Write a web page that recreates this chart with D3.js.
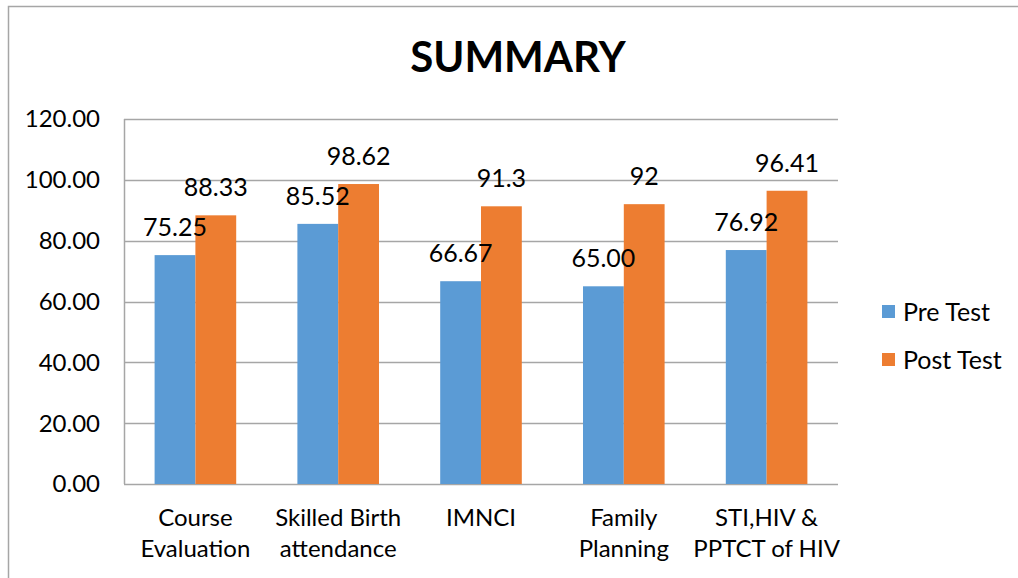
<!DOCTYPE html>
<html>
<head>
<meta charset="utf-8"/>
<script src="https://cdn.jsdelivr.net/npm/d3@7"></script>
<style>
html, body {
  margin: 0;
  padding: 0;
  background: #fff;
}
svg text {
  font-family: Lato, "Open Sans", sans-serif;
  fill: #000;
}
</style>
</head>
<body>
<svg id="chart" width="1018" height="578"></svg>
<script>

var categories = [["Course", "Evaluation"], ["Skilled Birth", "attendance"], ["IMNCI"], ["Family", "Planning"], ["STI,HIV &", "PPTCT of HIV"]];
var preTest = [75.25, 85.52, 66.67, 65.00, 76.92];
var postTest = [88.33, 98.62, 91.3, 92, 96.41];
var preLabels = ["75.25", "85.52", "66.67", "65.00", "76.92"];
var postLabels = ["88.33", "98.62", "91.3", "92", "96.41"];
var seriesNames = ["Pre Test", "Post Test"];
var colors = ["#5b9bd5", "#ed7d31"];
var yTicks = [0, 20, 40, 60, 80, 100, 120];

var svg = d3.select("#chart");

// outer chart border
svg.append("rect")
  .attr("x", 8.5).attr("y", 6.5)
  .attr("width", 1040).attr("height", 600)
  .attr("fill", "none")
  .attr("stroke", "#a6a6a6")
  .attr("stroke-width", 1.5);

svg.append("text")
  .attr("x", 518).attr("y", 72)
  .attr("text-anchor", "middle")
  .style("font-size", "42px")
  .style("font-weight", "bold")
  .text("SUMMARY");

var plotLeft = 124, plotRight = 838, plotTop = 119, plotBottom = 484;

var x = d3.scaleBand()
  .domain(d3.range(categories.length))
  .range([plotLeft, plotRight])
  .paddingInner(0)
  .paddingOuter(0);

var x1 = d3.scaleBand()
  .domain([0, 1])
  .range([0, x.bandwidth()])
  .paddingInner(0)
  .paddingOuter(0.75);

var y = d3.scaleLinear().domain([0, 120]).range([plotBottom, plotTop]);

// gridlines
svg.append("g").selectAll("line")
  .data(yTicks)
  .enter().append("line")
  .attr("x1", plotLeft).attr("x2", plotRight)
  .attr("y1", function(d) { return Math.round(y(d)) + 0.5; })
  .attr("y2", function(d) { return Math.round(y(d)) + 0.5; })
  .attr("stroke", "#a6a6a6")
  .attr("stroke-width", 1.5);

svg.append("line")
  .attr("x1", plotLeft + 0.5).attr("x2", plotLeft + 0.5)
  .attr("y1", plotTop).attr("y2", plotBottom)
  .attr("stroke", "#a6a6a6")
  .attr("stroke-width", 1.5);

// y tick labels
svg.append("g").selectAll("text")
  .data(yTicks)
  .enter().append("text")
  .attr("x", 100)
  .attr("y", function(d) { return y(d); })
  .attr("dy", "0.35em")
  .attr("text-anchor", "end")
  .style("font-size", "24px")
  .text(function(d) { return d.toFixed(2); });

var rows = categories.map(function(c, i) {
  return {i: i, values: [preTest[i], postTest[i]], labels: [preLabels[i], postLabels[i]]};
});

var groups = svg.append("g").selectAll("g")
  .data(rows)
  .enter().append("g")
  .attr("transform", function(d) { return "translate(" + x(d.i) + ",0)"; });

groups.selectAll("rect")
  .data(function(d) { return d.values.map(function(v, k) { return {k: k, v: v}; }); })
  .enter().append("rect")
  .attr("x", function(d) { return x1(d.k); })
  .attr("y", function(d) { return y(d.v); })
  .attr("width", x1.bandwidth())
  .attr("height", function(d) { return plotBottom - y(d.v); })
  .attr("fill", function(d) { return colors[d.k]; });

groups.selectAll("text.val")
  .data(function(d) { return d.values.map(function(v, k) { return {k: k, v: v, t: d.labels[k]}; }); })
  .enter().append("text")
  .attr("class", "val")
  .attr("x", function(d) { return x1(d.k) + x1.bandwidth() / 2; })
  .attr("y", function(d) { return y(d.v) - 19; })
  .attr("text-anchor", "middle")
  .style("font-size", "25px")
  .text(function(d) { return d.t; });

// category labels
var cat = svg.append("g").selectAll("text")
  .data(categories)
  .enter().append("text")
  .attr("text-anchor", "middle")
  .style("font-size", "24px")
  .attr("transform", function(d, i) { return "translate(" + (x(i) + x.bandwidth() / 2) + ",526)"; });

cat.selectAll("tspan")
  .data(function(d) { return d; })
  .enter().append("tspan")
  .attr("x", 0)
  .attr("y", function(d, j) { return j * 31; })
  .text(function(d) { return d; });

// legend
var legend = svg.append("g").selectAll("g")
  .data(seriesNames)
  .enter().append("g")
  .attr("transform", function(d, i) { return "translate(882," + (312 + i * 48) + ")"; });

legend.append("rect")
  .attr("x", 0).attr("y", -7)
  .attr("width", 13).attr("height", 13)
  .attr("fill", function(d, i) { return colors[i]; });

legend.append("text")
  .attr("x", 21).attr("y", 0)
  .attr("dy", "0.35em")
  .style("font-size", "25px")
  .text(function(d) { return d; });

</script>
</body>
</html>
